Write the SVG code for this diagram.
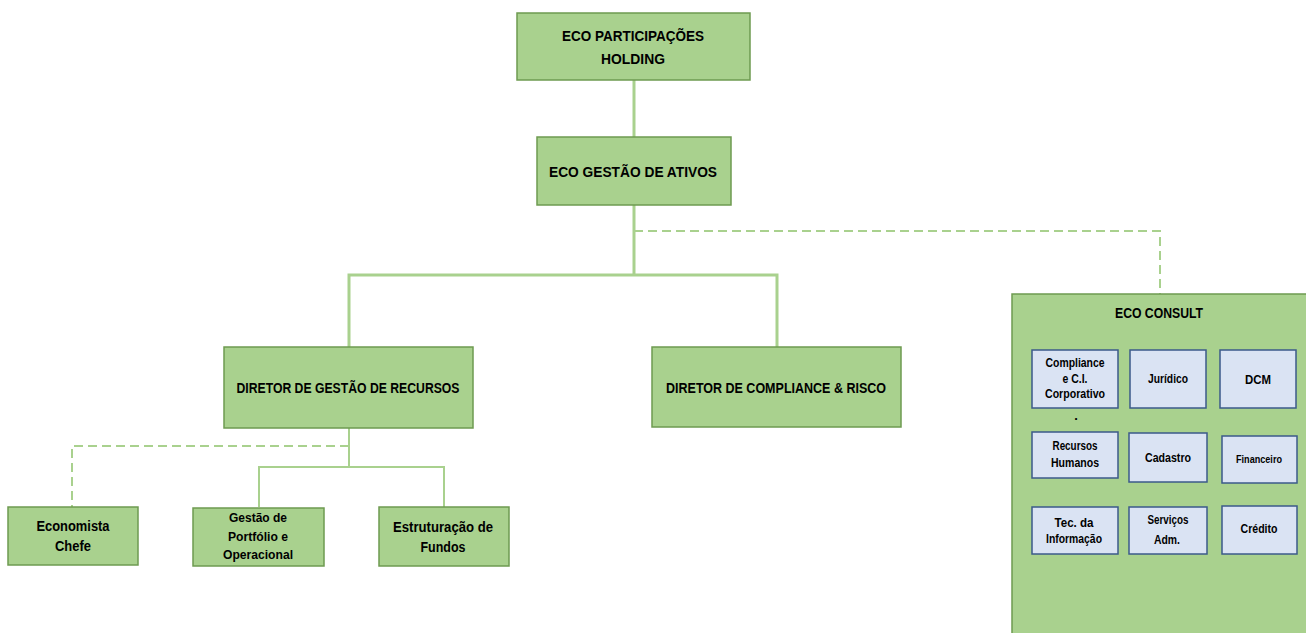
<svg xmlns="http://www.w3.org/2000/svg" width="1306" height="633" viewBox="0 0 1306 633">
<style>
.g{fill:#a9d18e;stroke:#6e9a50;stroke-width:1.5}
.b{fill:#dae3f3;stroke:#3b5a8a;stroke-width:1.5}
.t{font-family:"Liberation Sans",Arial,sans-serif;font-weight:bold;fill:#000;text-anchor:middle}
.m{font-size:14.5px}
.s{font-size:13px}
.xs{font-size:10px}
.c{fill:none;stroke:#a9d18e;stroke-width:3}
.c2{fill:none;stroke:#a9d18e;stroke-width:2}
.d{fill:none;stroke:#a9d18e;stroke-width:2;stroke-dasharray:9 5}
</style>
<rect width="1306" height="633" fill="#fff"/>
<g id="connectors">
<path class="c" d="M634 80V137"/>
<path class="c" d="M634 205V275M349 347V275H777V347"/>
<path class="d" d="M634 231H1160V295"/>
<path class="c2" d="M349 428V467M259 507V467H444V507"/>
<path class="d" d="M349 446H72V507"/>
</g>
<g id="holding">
<rect class="g" x="517" y="13" width="233" height="67"/>
<text class="t m" x="633" y="41" textLength="142" lengthAdjust="spacingAndGlyphs">ECO PARTICIPAÇÕES</text>
<text class="t m" x="633" y="64" textLength="64" lengthAdjust="spacingAndGlyphs">HOLDING</text>
</g>
<g id="gestao-ativos">
<rect class="g" x="537" y="137" width="194" height="68"/>
<text class="t m" x="633" y="177" textLength="168" lengthAdjust="spacingAndGlyphs">ECO GESTÃO DE ATIVOS</text>
</g>
<g id="diretor-gestao">
<rect class="g" x="224" y="347" width="249" height="81"/>
<text class="t m" x="348" y="393" textLength="223" lengthAdjust="spacingAndGlyphs">DIRETOR DE GESTÃO DE RECURSOS</text>
</g>
<g id="diretor-compliance">
<rect class="g" x="652" y="347" width="249" height="80"/>
<text class="t m" x="776" y="393" textLength="220" lengthAdjust="spacingAndGlyphs">DIRETOR DE COMPLIANCE &amp; RISCO</text>
</g>
<g id="economista">
<rect class="g" x="8" y="507" width="130" height="58"/>
<text class="t m" x="73" y="531" textLength="73" lengthAdjust="spacingAndGlyphs">Economista</text>
<text class="t m" x="73" y="551" textLength="36" lengthAdjust="spacingAndGlyphs">Chefe</text>
</g>
<g id="portfolio">
<rect class="g" x="193" y="508" width="131" height="58"/>
<text class="t s" x="258" y="522" textLength="58" lengthAdjust="spacingAndGlyphs">Gestão de</text>
<text class="t s" x="258" y="541" textLength="60" lengthAdjust="spacingAndGlyphs">Portfólio e</text>
<text class="t s" x="258" y="559" textLength="70" lengthAdjust="spacingAndGlyphs">Operacional</text>
</g>
<g id="estruturacao">
<rect class="g" x="379" y="507" width="130" height="59"/>
<text class="t m" x="443" y="532" textLength="100" lengthAdjust="spacingAndGlyphs">Estruturação de</text>
<text class="t m" x="443" y="552" textLength="45" lengthAdjust="spacingAndGlyphs">Fundos</text>
</g>
<g id="eco-consult">
<rect class="g" x="1012" y="294" width="300" height="350"/>
<text class="t m" x="1159" y="318" textLength="88" lengthAdjust="spacingAndGlyphs">ECO CONSULT</text>
</g>
<g id="compliance-ci">
<rect class="b" x="1032" y="350" width="86" height="58"/>
<text class="t s" x="1075" y="367" textLength="59" lengthAdjust="spacingAndGlyphs">Compliance</text>
<text class="t s" x="1075" y="383" textLength="25" lengthAdjust="spacingAndGlyphs">e C.I.</text>
<text class="t s" x="1075" y="398" textLength="60" lengthAdjust="spacingAndGlyphs">Corporativo</text>
<text class="t s" x="1076" y="420">.</text>
</g>
<g id="juridico">
<rect class="b" x="1130" y="350" width="76" height="58"/>
<text class="t s" x="1168" y="383" textLength="40" lengthAdjust="spacingAndGlyphs">Jurídico</text>
</g>
<g id="dcm">
<rect class="b" x="1220" y="350" width="76" height="58"/>
<text class="t s" x="1258" y="384" textLength="26" lengthAdjust="spacingAndGlyphs">DCM</text>
</g>
<g id="recursos-humanos">
<rect class="b" x="1032" y="432" width="86" height="46"/>
<text class="t s" x="1075" y="450" textLength="45" lengthAdjust="spacingAndGlyphs">Recursos</text>
<text class="t s" x="1075" y="467" textLength="48" lengthAdjust="spacingAndGlyphs">Humanos</text>
</g>
<g id="cadastro">
<rect class="b" x="1129" y="433" width="78" height="49"/>
<text class="t s" x="1168" y="462" textLength="46" lengthAdjust="spacingAndGlyphs">Cadastro</text>
</g>
<g id="financeiro">
<rect class="b" x="1222" y="436" width="75" height="47"/>
<text class="t xs" x="1259" y="463" textLength="46" lengthAdjust="spacingAndGlyphs">Financeiro</text>
</g>
<g id="tec-informacao">
<rect class="b" x="1032" y="507" width="86" height="47"/>
<text class="t s" x="1074" y="527" textLength="39" lengthAdjust="spacingAndGlyphs">Tec. da</text>
<text class="t s" x="1074" y="543" textLength="56" lengthAdjust="spacingAndGlyphs">Informação</text>
</g>
<g id="servicos-adm">
<rect class="b" x="1129" y="507" width="78" height="47"/>
<text class="t s" x="1168" y="524" textLength="41" lengthAdjust="spacingAndGlyphs">Serviços</text>
<text class="t s" x="1167" y="544" textLength="26" lengthAdjust="spacingAndGlyphs">Adm.</text>
</g>
<g id="credito">
<rect class="b" x="1222" y="506" width="75" height="48"/>
<text class="t s" x="1259" y="533" textLength="37" lengthAdjust="spacingAndGlyphs">Crédito</text>
</g>
</svg>
